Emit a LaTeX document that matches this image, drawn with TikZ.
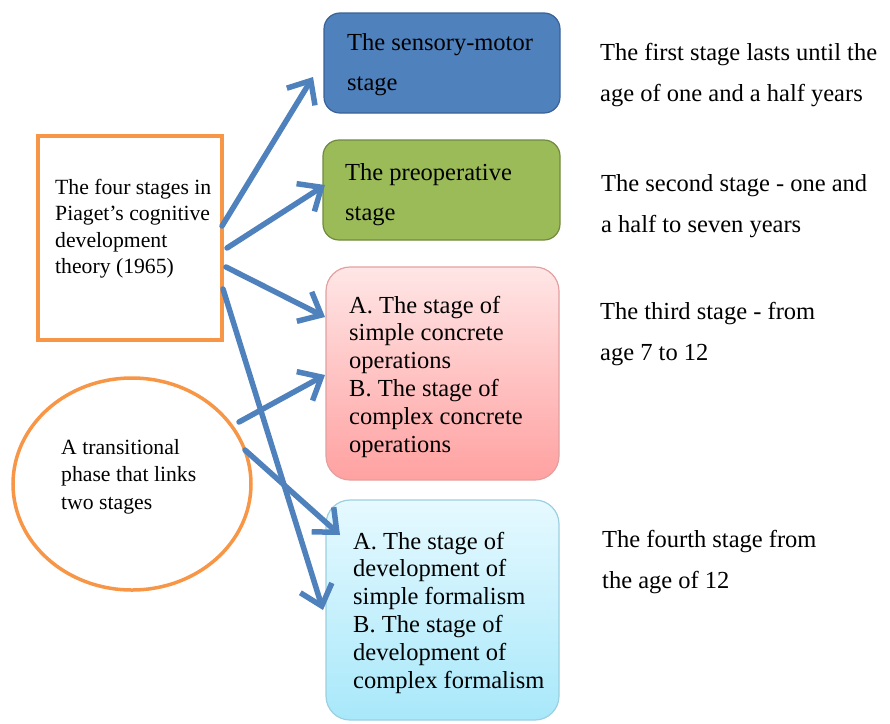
\documentclass[tikz,border=0pt]{standalone}
\usepackage{fontspec}
\setmainfont{Liberation Serif}
\usetikzlibrary{arrows.meta,shapes.geometric}
\definecolor{linkblue}{HTML}{4F81BD}
\definecolor{frameorange}{HTML}{F79646}
\definecolor{smfill}{HTML}{4F81BD}
\definecolor{smline}{HTML}{3A6296}
\definecolor{prefill}{HTML}{9BBB59}
\definecolor{preline}{HTML}{71893F}
\definecolor{pinktop}{HTML}{FFE6E6}
\definecolor{pinkbot}{HTML}{FFA1A1}
\definecolor{pinkline}{HTML}{E3A0A0}
\definecolor{cyantop}{HTML}{E6F9FF}
\definecolor{cyanbot}{HTML}{A8E8FA}
\definecolor{cyanline}{HTML}{9CD0E0}
\tikzset{
  stagebox/.style={inner sep=0pt, line width=1.2pt},
  % base of a multi-line text is its last line
  txt/.style={anchor=base west, inner sep=0pt, align=left},
  link/.style={draw=linkblue, line width=5.5pt, line cap=round,
    -{Straight Barb[length=19pt,width=33pt]}},
}
\begin{document}
\begin{tikzpicture}[x=1pt,y=-1pt]
  \def\bigfont{\fontsize{24.5}{40}\selectfont}
  \def\boxfont{\fontsize{24.5}{27.8}\selectfont}
  \def\agefont{\fontsize{24.5}{41}\selectfont}
  \clip(0,0)rectangle(890,723);
  % left side
  \node[draw=frameorange, line width=3.5pt, minimum width=184pt,
    minimum height=204pt] (four) at (130,238) {};
  \node[ellipse, draw=frameorange, line width=3.5pt, minimum width=238pt,
    minimum height=212pt] (phase) at (132,484) {};
  \node[txt, font=\fontsize{21.7}{26.5}\selectfont] (four-t) at (55,273.5)
  {The four stages in\\Piaget's cognitive\\development\\theory (1965)};
  \node[txt, font=\fontsize{21.7}{27.5}\selectfont] (phase-t) at (61,509)
  {A transitional\\phase that links\\two stages};
  % the four stages
  \node[stagebox, draw=smline, fill=smfill, rounded corners=16pt,
    minimum width=236pt, minimum height=100pt] (sm) at (442,63) {};
  \node[stagebox, draw=preline, fill=prefill, rounded corners=16pt,
    minimum width=237pt, minimum height=100pt] (pre) at (441.5,190) {};
  \node[stagebox, draw=pinkline, top color=pinktop, bottom color=pinkbot,
    rounded corners=24pt, minimum width=233pt, minimum height=213pt]
  (conc) at (442.5,373.5) {};
  \node[stagebox, draw=cyanline, top color=cyantop, bottom color=cyanbot,
    rounded corners=24pt, minimum width=233pt, minimum height=220pt]
  (form) at (442.5,610) {};
  \node[txt, font=\bigfont] (sm-t) at (347,90) {The sensory-motor\\stage};
  \node[txt, font=\bigfont] (pre-t) at (345,220) {The preoperative\\stage};
  \node[txt, font=\boxfont] (conc-t) at (349,452)
  {A. The stage of\\simple concrete\\operations\\B. The stage of\\
    complex concrete\\operations};
  \node[txt, font=\boxfont] (form-t) at (353,688)
  {A. The stage of\\development of\\simple formalism\\B. The stage of\\
    development of\\complex formalism};
  % ages
  \node[txt, font=\agefont] (age1) at (600,101)
  {The first stage lasts until the\\age of one and a half years};
  \node[txt, font=\agefont] (age2) at (601,232)
  {The second stage - one and\\a half to seven years};
  \node[txt, font=\agefont] (age3) at (600,360)
  {The third stage - from\\age 7 to 12};
  \node[txt, font=\agefont] (age4) at (602,588)
  {The fourth stage from\\the age of 12};
  % arrows
  \coordinate(s1) at (222,226);
  \coordinate(s2) at (227,248);
  \coordinate(s3) at (226,267);
  \coordinate(s4) at (223,289);
  \coordinate(s5) at (239,422);
  \coordinate(s6) at (245,450);
  \coordinate(h1) at (313,77);
  \coordinate(h2) at (325,185);
  \coordinate(h3) at (325,317);
  \coordinate(h4) at (323,610);
  \coordinate(h5) at (325,375);
  \coordinate(h6) at (340,535);
  \draw[link](s1)--(h1);
  \draw[link](s2)--(h2);
  \draw[link](s3)--(h3);
  \draw[link](s4)--(h4);
  \draw[link](s5)--(h5);
  \draw[link](s6)--(h6);
\end{tikzpicture}
\end{document}
